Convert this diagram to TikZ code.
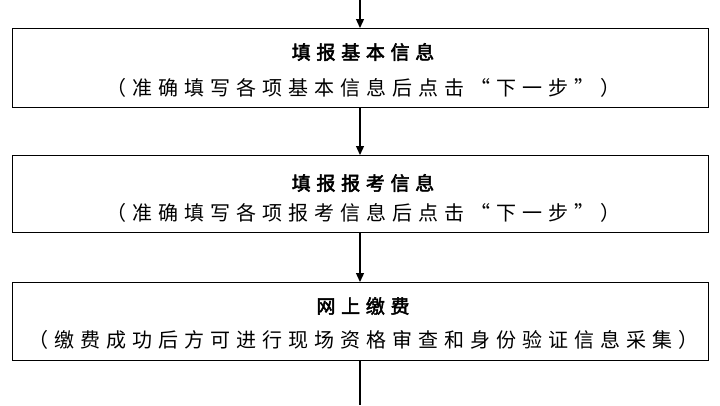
\documentclass[tikz,border=0pt]{standalone}
\usepackage{fontspec}
\newfontfamily\cjk{Noto Sans CJK SC}[LetterSpace=30]
\newfontfamily\cjkb{Noto Sans CJK SC}[LetterSpace=30,FakeBold=2.5]
\usetikzlibrary{arrows.meta}
\begin{document}
\begin{tikzpicture}[x=1pt,y=-1pt,
  stepbox/.style={draw,line width=1pt,minimum width=696pt,anchor=north},
  ttl/.style={font=\fontsize{19}{19}\selectfont\cjkb},
  sub/.style={font=\fontsize{20}{20}\selectfont\cjk},
  arr/.style={line width=1.3pt,-{Triangle[length=9pt,width=8pt]}}]
\useasboundingbox (0,0) rectangle (720,405);
\node[stepbox,minimum height=79pt] (b1) at (360,28) {};
\node[stepbox,minimum height=77pt] (b2) at (360,155) {};
\node[stepbox,minimum height=78pt] (b3) at (360,282) {};
\node[ttl] (t1) at (363,52) {填报基本信息};
\node[sub] (s1) at (363,88) {（准确填写各项基本信息后点击“下一步”）};
\node[ttl] (t2) at (363,183) {填报报考信息};
\node[sub] (s2) at (363,213) {（准确填写各项报考信息后点击“下一步”）};
\node[ttl] (t3) at (363,306) {网上缴费};
\node[sub] (s3) at (363,340) {（缴费成功后方可进行现场资格审查和身份验证信息采集）};
\coordinate (top) at (360,0);
\coordinate (bot) at (360,405);
\draw[arr] (top) -- (b1.north);
\draw[arr] (b1.south) -- (b2.north);
\draw[arr] (b2.south) -- (b3.north);
\draw[line width=1.3pt] (b3.south) -- (bot);
\end{tikzpicture}
\end{document}
